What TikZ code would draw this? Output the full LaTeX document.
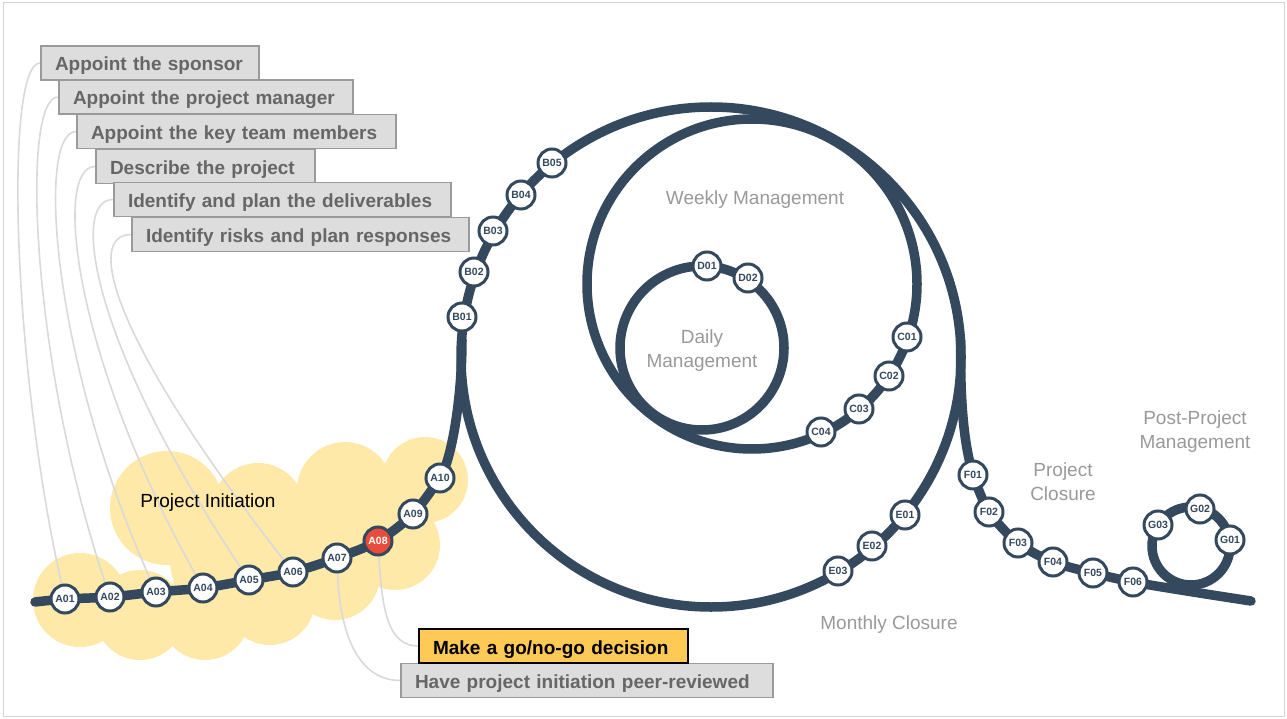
\documentclass[tikz,border=0pt]{standalone}
\usepackage{fontspec}
\setmainfont{Liberation Sans}
\definecolor{track}{HTML}{34495E}
\definecolor{redA}{HTML}{E94B3C}
\definecolor{cloudc}{HTML}{FFE9A8}
\definecolor{connc}{HTML}{D9D9D9}
\definecolor{gfill}{HTML}{DDDDDD}
\definecolor{gborder}{HTML}{9A9A9A}
\definecolor{gtext}{HTML}{666666}
\definecolor{yfill}{HTML}{FFC955}
\definecolor{lblc}{HTML}{999999}
\definecolor{framec}{HTML}{D4D4D4}
\pgfdeclarelayer{cloudlayer}
\pgfdeclarelayer{links}
\pgfdeclarelayer{rails}
\pgfsetlayers{cloudlayer,links,rails,main}
\tikzset{
  stn/.style={circle, draw=track, line width=3pt, fill=white, minimum size=28pt, inner sep=0pt,
    font=\fontsize{10.5}{12}\selectfont\bfseries, text=track},
  stnred/.style={stn, fill=redA, text=white},
  trk/.style={draw=track, line width=9.5pt, line cap=round},
  ring/.style={draw=track, line width=9.5pt},
  conn/.style={draw=connc, line width=1.6pt},
  gbox/.style={draw=gborder, fill=gfill, line width=1.6pt, text=gtext,
    font=\fontsize{19}{22}\selectfont\bfseries, minimum height=34pt, inner ysep=0pt,
    inner xsep=14pt, align=left, text height=16pt, text depth=0pt},
  ybox/.style={gbox, draw=black, fill=yfill, text=black},
  lbl/.style={text=lblc, font=\fontsize{19}{24}\selectfont, align=center, inner sep=0pt},
}
\begin{document}
\begin{tikzpicture}[x=1pt,y=-1pt]
\useasboundingbox (0,0) rectangle (1287,719);
\draw[framec, line width=1pt] (3,3) rectangle (1284,716);

% cloud
\begin{pgfonlayer}{cloudlayer}
\fill[cloudc] (80,600) circle[radius=47pt];
\fill[cloudc] (140,615) circle[radius=45pt];
\fill[cloudc] (205,615) circle[radius=45pt];
\fill[cloudc] (270,600) circle[radius=45pt];
\fill[cloudc] (335,575) circle[radius=45pt];
\fill[cloudc] (395,545) circle[radius=45pt];
\fill[cloudc] (425,480) circle[radius=43pt];
\fill[cloudc] (345,490) circle[radius=48pt];
\fill[cloudc] (258,510) circle[radius=47pt];
\fill[cloudc] (167,508) circle[radius=57pt];
\fill[cloudc] (230,560) circle[radius=60pt];
\fill[cloudc] (330,530) circle[radius=50pt];
\end{pgfonlayer}

% rails
\begin{pgfonlayer}{rails}
\draw[ring] (711,357) circle[radius=250pt];
\draw[ring] (752,284) circle[radius=165pt];
\draw[ring] (702,348) circle[radius=82pt];
\draw[ring] (1191,546) circle[radius=39pt];
\draw[trk] plot[smooth, tension=0.5] coordinates {(35,602) (65,599) (110,597) (156,592) (203,588) (249,580) (293,572) (337,558) (378,541) (413,514) (440,478)};
\draw[trk] (440,478) .. controls (451,462) and (462,400) .. (462,340);
\draw[trk] (960.5,340) -- (960.5,357) .. controls (961,420) and (966,450) .. (973,475);
\draw[trk] plot[smooth, tension=0.5] coordinates {(973,475) (989,512) (1018,543) (1053,562) (1093,573) (1133,582) (1190,591.5) (1251,601)};
\end{pgfonlayer}

% stations
\node[stn] (A01) at (65,599) {A01};
\node[stn] (A02) at (110,597) {A02};
\node[stn] (A03) at (156,592) {A03};
\node[stn] (A04) at (203,588) {A04};
\node[stn] (A05) at (249,580) {A05};
\node[stn] (A06) at (293,572) {A06};
\node[stn] (A07) at (337,558) {A07};
\node[stnred] (A08) at (378,541) {A08};
\node[stn] (A09) at (413,514) {A09};
\node[stn] (A10) at (440,478) {A10};
\node[stn] (B01) at (462,317) {B01};
\node[stn] (B02) at (474,272) {B02};
\node[stn] (B03) at (493,231) {B03};
\node[stn] (B04) at (521,195) {B04};
\node[stn] (B05) at (552,163) {B05};
\node[stn] (C01) at (907,337) {C01};
\node[stn] (C02) at (889,376) {C02};
\node[stn] (C03) at (859,409) {C03};
\node[stn] (C04) at (821,432) {C04};
\node[stn] (D01) at (707,266) {D01};
\node[stn] (D02) at (748,278) {D02};
\node[stn] (E01) at (905,515) {E01};
\node[stn] (E02) at (872,546) {E02};
\node[stn] (E03) at (838,571) {E03};
\node[stn] (F01) at (973,475) {F01};
\node[stn] (F02) at (989,512) {F02};
\node[stn] (F03) at (1018,543) {F03};
\node[stn] (F04) at (1053,562) {F04};
\node[stn] (F05) at (1093,573) {F05};
\node[stn] (F06) at (1133,582) {F06};
\node[stn] (G01) at (1230,540) {G01};
\node[stn] (G02) at (1200,509) {G02};
\node[stn] (G03) at (1158,525) {G03};

% area labels
\node[lbl] (wk) at (755,200) {Weekly Management};
\node[lbl] (dy) at (702,351) {Daily\\Management};
\node[lbl] (mc) at (889,625) {Monthly Closure};
\node[lbl] (pc) at (1063,482) {Project\\Closure};
\node[lbl] (pp) at (1195,432) {Post-Project\\Management};
\node[lbl, text=black] (pi) at (208,503) {Project Initiation};

% task boxes
\node[gbox, text width=190pt] (L1) at (150,63) {Appoint the sponsor};
\node[gbox, text width=266pt] (L2) at (206,97) {Appoint the project manager};
\node[gbox, text width=291pt] (L3) at (236.5,131.5) {Appoint the key team members};
\node[gbox, text width=191pt] (L4) at (205.5,166.5) {Describe the project};
\node[gbox, text width=309pt] (L5) at (282.5,199.5) {Identify and plan the deliverables};
\node[gbox, text width=309pt] (L6) at (300.5,234.5) {Identify risks and plan responses};
\node[gbox, text width=344pt] (Have) at (587,680.5) {Have project initiation peer-reviewed};
\node[ybox, text width=241pt] (Go) at (553.5,646) {Make a go/no-go decision};

% connectors
\begin{pgfonlayer}{links}
\draw[conn] (L1.west) .. controls +(-36,0) and +(-53,-235) .. (A01);
\draw[conn] (L2.west) .. controls +(-38,0) and +(-79,-235) .. (A02);
\draw[conn] (L3.west) .. controls +(-40,0) and +(-105,-235) .. (A03);
\draw[conn] (L4.west) .. controls +(-42,0) and +(-131,-235) .. (A04);
\draw[conn] (L5.west) .. controls +(-44,0) and +(-157,-235) .. (A05);
\draw[conn] (L6.west) .. controls +(-46,0) and +(-183,-235) .. (A06);
\draw[conn] (A07) .. controls +(3,80) and +(-40,0) .. (Have.west);
\draw[conn] (A08) .. controls +(4,70) and +(-30,0) .. (Go.west);
\end{pgfonlayer}
\end{tikzpicture}
\end{document}
